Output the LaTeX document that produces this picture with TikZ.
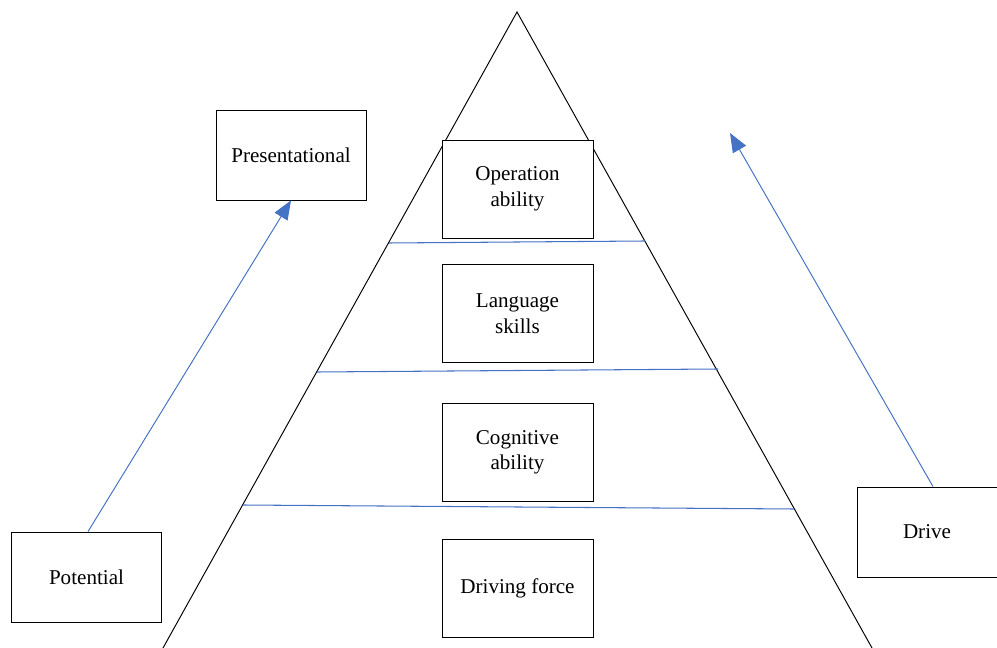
\documentclass[tikz,border=0pt]{standalone}
\usepackage{fontspec}
\setmainfont{Liberation Serif}
\usepackage{xcolor}
\usetikzlibrary{arrows.meta, positioning, calc}
\definecolor{lineblue}{HTML}{4472C4}

\begin{document}
\begin{tikzpicture}[
  x=0.02cm, y=-0.02cm,
  level/.style={rectangle, draw=black, fill=white, line width=0.5pt, minimum width=3.02cm, minimum height=1.96cm, align=center, font=\fontsize{12}{14.5}\selectfont},
  side/.style={rectangle, draw=black, fill=white, line width=0.5pt, minimum width=3cm, minimum height=1.8cm, align=center, font=\fontsize{12}{14.5}\selectfont},
  divider/.style={draw=lineblue, line width=0.6pt},
  arrow/.style={-{Triangle[length=0.38cm, width=0.3cm]}, draw=lineblue, line width=0.55pt}
]
  \path[use as bounding box, fill=white] (0,0) rectangle (997,648);

  % Pyramid
  \coordinate (apex) at (517,12);
  \coordinate (baseL) at (163,648);
  \coordinate (baseR) at (872,648);
  \draw[line width=0.55pt] (baseL) -- (apex) -- (baseR);

  % Dividers
  \draw[divider] (389,243) -- (645,241);
  \draw[divider] (317,372) -- (718,369);
  \draw[divider] (243,505) -- (794,509);

  % Levels
  \node[level] (operation) at (517.5,189) {Operation\\ability};
  \node[level] (language) at (517.5,313.5) {Language\\skills};
  \node[level] (cognitive) at (517.5,452.5) {Cognitive\\ability};
  \node[level] (driving) at (517.5,588.5) {Driving force};

  % Side boxes
  \node[side] (presentational) at (291,155) {Presentational};
  \node[side] (potential) at (86.5,577) {Potential};
  \node[side, minimum width=2.8cm] (drive) at (927,532) {Drive};

  % Arrows
  \coordinate (driveup) at (730,133);
  \draw[arrow] ($(potential.north)+(1.5,0)$) -- (presentational.south);
  \draw[arrow] ($(drive.north)+(6,0)$) -- (driveup);
\end{tikzpicture}
\end{document}
